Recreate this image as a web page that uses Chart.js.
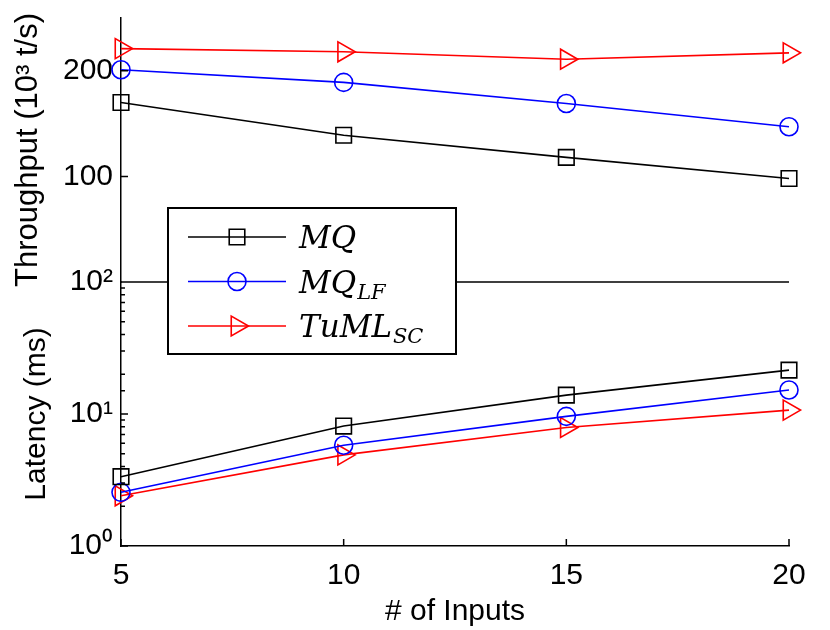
<!DOCTYPE html>
<html>
<head>
<meta charset="utf-8">
<script src="https://cdn.jsdelivr.net/npm/chart.js@4.4.1/dist/chart.umd.min.js"></script>
<style>
  html, body { margin: 0; padding: 0; background: #fff; }
  #wrap { width: 830px; height: 630px; }
</style>
</head>
<body>
<div id="wrap"><canvas id="chart"></canvas></div>
<script>
// x values (# of inputs)
const inputs = [5, 10, 15, 20];

// Throughput (10^3 t/s), top panel
const thrMQ = [170, 139, 118, 98];
const thrMQLF = [201, 189, 169, 147];
const thrTuML = [221, 218, 211, 217];

// Latency (ms), bottom panel, log scale
const latMQ = [3.35, 8.1, 13.9, 21.5];
const latMQLF = [2.55, 5.8, 9.6, 15.2];
const latTuML = [2.4, 4.9, 7.9, 10.7];

// tick labels
const xTicks = [5, 10, 15, 20];
const thrTicks = [100, 200];
const latTickLabels = { 1: '10⁰', 10: '10¹', 100: '10²' };

// legend entries: [main text, subscript]
const seriesNames = [['MQ', ''], ['MQ', 'LF'], ['TuML', 'SC']];

const BLACK = '#000000';
const BLUE = '#0000ff';
const RED = '#ff0000';

const toPoints = (ys) => inputs.map((x, i) => ({ x: x, y: ys[i] }));

// marker styles for each series
const styles = [
  { color: BLACK, pointStyle: 'rect', radius: 11, rotation: 0 },
  { color: BLUE, pointStyle: 'circle', radius: 9, rotation: 0 },
  { color: RED, pointStyle: 'triangle', radius: 11.5, rotation: 90 },
];

const makeSet = (ys, s, axis) => ({
  data: toPoints(ys),
  yAxisID: axis,
  borderColor: s.color,
  borderWidth: 1.6,
  pointStyle: s.pointStyle,
  pointRadius: s.radius,
  pointRotation: s.rotation,
  pointBorderColor: s.color,
  pointBackgroundColor: 'rgba(0,0,0,0)',
  pointBorderWidth: 1.6,
  tension: 0,
  clip: false,
});

// keep the plot box fixed: no extra room for overhanging labels
const fixBox = (w, h) => (s) => {
  if (w) s.width = w;
  if (h) s.height = h;
  s.paddingTop = 0;
  s.paddingBottom = 0;
  s.paddingLeft = 0;
  s.paddingRight = 0;
};

// inward tick marks, panel separator and the math legend
const decorations = {
  id: 'decorations',
  afterDatasetsDraw(chart) {
    const { ctx, chartArea, scales } = chart;
    const x = scales.x, yT = scales.yT, yB = scales.yB;
    ctx.save();
    ctx.strokeStyle = BLACK;
    ctx.lineWidth = 1.5;
    ctx.beginPath();
    // bottom line of the throughput panel
    ctx.moveTo(chartArea.left, yT.bottom);
    ctx.lineTo(chartArea.right, yT.bottom);
    // x ticks pointing up
    xTicks.forEach((v) => {
      const px = x.getPixelForValue(v);
      ctx.moveTo(px, chartArea.bottom);
      ctx.lineTo(px, chartArea.bottom - 7);
    });
    // throughput ticks
    thrTicks.forEach((v) => {
      const py = yT.getPixelForValue(v);
      ctx.moveTo(chartArea.left, py);
      ctx.lineTo(chartArea.left + 7, py);
    });
    // latency ticks, major and minor
    yB.ticks.forEach((t) => {
      const py = yB.getPixelForValue(t.value);
      const major = latTickLabels[t.value] !== undefined;
      ctx.moveTo(chartArea.left, py);
      ctx.lineTo(chartArea.left + (major ? 7 : 4), py);
    });
    ctx.stroke();
    ctx.restore();
  },
  afterDraw(chart) {
    const { ctx, chartArea } = chart;
    const bx = chartArea.left + 47;
    const by = chartArea.top + 190;
    const bw = 288;
    const bh = 146;
    ctx.save();
    ctx.fillStyle = '#fff';
    ctx.fillRect(bx, by, bw, bh);
    ctx.strokeStyle = BLACK;
    ctx.lineWidth = 2;
    ctx.strokeRect(bx, by, bw, bh);
    seriesNames.forEach((name, i) => {
      const s = styles[i];
      const cy = by + 29 + i * 44.5;
      ctx.strokeStyle = s.color;
      ctx.lineWidth = 1.6;
      ctx.beginPath();
      ctx.moveTo(bx + 20, cy);
      ctx.lineTo(bx + 118, cy);
      ctx.stroke();
      ctx.fillStyle = 'rgba(0,0,0,0)';
      Chart.helpers.drawPoint(ctx, {
        pointStyle: s.pointStyle,
        rotation: s.rotation,
        radius: s.radius,
        borderWidth: 1.6,
      }, bx + 69, cy);
      ctx.fillStyle = BLACK;
      ctx.textBaseline = 'alphabetic';
      ctx.font = 'italic 31px "DejaVu Serif"';
      const tx = bx + 131;
      ctx.fillText(name[0], tx, cy + 11);
      if (name[1]) {
        const w = ctx.measureText(name[0]).width;
        ctx.font = 'italic 21px "DejaVu Serif"';
        ctx.fillText(name[1], tx + w + 1, cy + 17);
      }
    });
    ctx.restore();
  },
};

Chart.defaults.font.family = '"Liberation Sans", Arial, sans-serif';
Chart.defaults.color = BLACK;

const ctx = document.getElementById('chart').getContext('2d');
const chart = new Chart(ctx, {
  type: 'line',
  data: {
    datasets: [
      makeSet(thrMQ, styles[0], 'yT'),
      makeSet(thrMQLF, styles[1], 'yT'),
      makeSet(thrTuML, styles[2], 'yT'),
      makeSet(latMQ, styles[0], 'yB'),
      makeSet(latMQLF, styles[1], 'yB'),
      makeSet(latTuML, styles[2], 'yB'),
    ],
  },
  options: {
    responsive: true,
    maintainAspectRatio: false,
    animation: false,
    devicePixelRatio: 1,
    layout: { autoPadding: false, padding: { top: 18, right: 41, left: 0, bottom: 0 } },
    plugins: {
      legend: { display: false },
      tooltip: { enabled: false },
    },
    scales: {
      x: {
        type: 'linear',
        min: 5,
        max: 20,
        afterBuildTicks: (s) => { s.ticks = xTicks.map((v) => ({ value: v })); },
        grid: { display: false, drawTicks: false },
        border: { display: true, color: BLACK, width: 1.5 },
        ticks: { font: { size: 30 }, padding: 12, maxRotation: 0 },
        title: { display: true, text: '# of Inputs', font: { size: 30 }, padding: { top: 0, bottom: 0 } },
        afterFit: fixBox(0, 84),
      },
      yB: {
        type: 'logarithmic',
        position: 'left',
        stack: 'panels',
        stackWeight: 1,
        min: 1,
        max: 100,
        grid: { display: false, drawTicks: false },
        border: { display: true, color: BLACK, width: 1.5 },
        ticks: {
          autoSkip: false,
          font: { size: 30 },
          padding: 8,
          callback: (v) => latTickLabels[v] || '',
        },
        title: { display: true, text: 'Latency (ms)', font: { size: 30 }, padding: { top: 19, bottom: 0 } },
        afterFit: fixBox(121, 0),
      },
      yT: {
        type: 'linear',
        position: 'left',
        stack: 'panels',
        stackWeight: 1,
        min: 0,
        max: 250,
        afterBuildTicks: (s) => { s.ticks = thrTicks.map((v) => ({ value: v })); },
        grid: { display: false, drawTicks: false },
        border: { display: true, color: BLACK, width: 1.5 },
        ticks: { font: { size: 30 }, padding: 8 },
        title: { display: true, text: 'Throughput (10³ t/s)', font: { size: 31 }, padding: { top: 10, bottom: 0 } },
        afterFit: fixBox(121, 0),
      },
    },
  },
  plugins: [decorations],
});
</script>
</body>
</html>
